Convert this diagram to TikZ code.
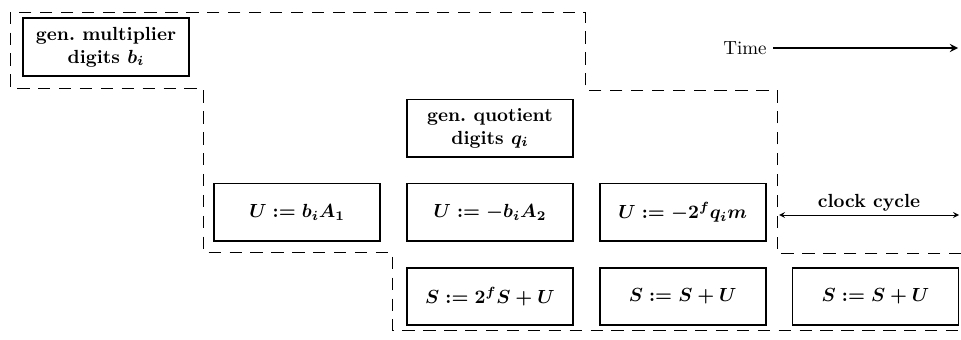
\documentclass[tikz,border=0pt]{standalone}
\usepackage{amsmath}
\usepackage{tikz}
\usetikzlibrary{positioning}

\begin{document}
\begin{tikzpicture}[x=0.0185cm, y=-0.0185cm, >=stealth, node distance=0.46cm,
  every node/.style={align=center, font=\bfseries\boldmath},
  opbox/.style={draw, line width=1pt, minimum width=3.07cm, minimum height=1.06cm},
  band/.style={dash pattern=on 6.5pt off 4.5pt, line width=0.5pt}]
  \useasboundingbox (0,0) rectangle (961,339);
  \node[opbox] (mult) at (106,47) {gen.\ multiplier\\digits $b_i$};
  \node[opbox, below right=1.96cm and 0.43cm of mult] (ua) {$U := b_i A_1$};
  \node[opbox, right=of ua] (ub) {$U := -b_i A_2$};
  \node[opbox, right=of ub] (uc) {$U := -2^f q_i m$};
  \node[opbox, above=of ub] (quot) {gen.\ quotient\\digits $q_i$};
  \node[opbox, below=of ub] (sa) {$S := 2^f S + U$};
  \node[opbox, right=of sa] (sb) {$S := S + U$};
  \node[opbox, right=of sb] (sc) {$S := S + U$};
  \node[font=\normalfont] (time) at (745,48) {Time};
  \coordinate (timeend) at (958,48);
  \draw[->, line width=0.9pt] (time) -- (timeend);
  \coordinate (ccleft) at (779,215);
  \coordinate (ccright) at (959,215);
  \draw[<->] (ccleft) -- node[above, inner sep=1.5pt] (cc) {clock cycle} (ccright);
  % band of one clock cycle
  \draw[band] (961,253) -| (777,90) -| (585,12) -| (10,88) -| (203,252) -| (392,330) -- (961,330);
\end{tikzpicture}
\end{document}
